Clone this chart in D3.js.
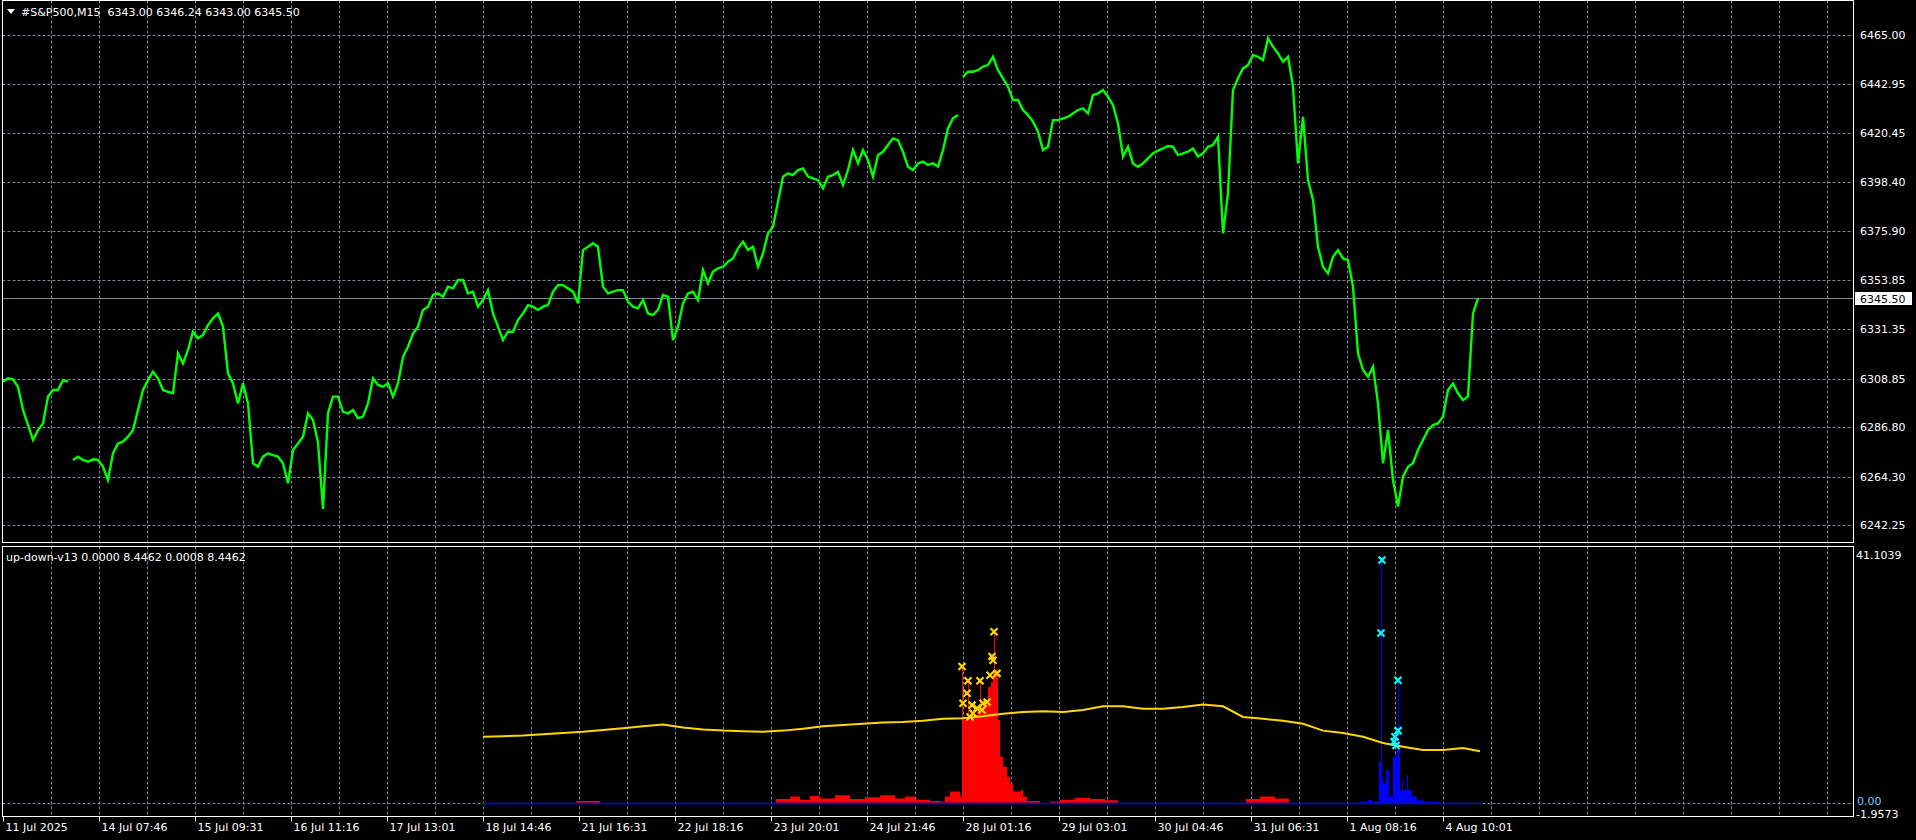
<!DOCTYPE html>
<html><head><meta charset="utf-8">
<script src="https://cdn.jsdelivr.net/npm/d3@7"></script>
<style>
html,body{margin:0;padding:0;background:#000;overflow:hidden}
svg{display:block}
text{font-family:"DejaVu Sans",sans-serif;font-size:11px;fill:#fff}
</style>
</head><body>
<svg id="c" width="1916" height="840"></svg>
<script>
// ---------- data ----------
const chartTitle = "#S&P500,M15  6343.00 6346.24 6343.00 6345.50";
const indTitle = "up-down-v13 0.0000 8.4462 0.0008 8.4462";
const priceTicks = [6465.00, 6442.95, 6420.45, 6398.40, 6375.90, 6353.85, 6331.35, 6308.85, 6286.80, 6264.30, 6242.25];
const priceMin = 6242.25, priceMax = 6465.00;
const lastPrice = 6345.50;
const indMax = 41.1039, indMin = -1.9573;
const indTicks = [0.00];
const timeLabels = ["11 Jul 2025","14 Jul 07:46","15 Jul 09:31","16 Jul 11:16","17 Jul 13:01","18 Jul 14:46","21 Jul 16:31","22 Jul 18:16","23 Jul 20:01","24 Jul 21:46","28 Jul 01:16","29 Jul 03:01","30 Jul 04:46","31 Jul 06:31","1 Aug 08:16","4 Aug 10:01"];
const barsPerLabel = 96;
const barsPerGrid = 48;
const sampleStep = 5; // M15 bars between price samples
const weekendBreaks = [14, 192]; // sample indexes where a new session opens after a gap

const closes = [
6307.6,6309.1,6308.6,6305.3,6294.7,6287.9,6281.1,6285.6,6288.6,6300.8,6303.8,6303.8,6308.3,6307.6,6272.0,6273.5,6272.0,6271.2,6272.3,6272.0,
6268.9,6262.9,6275.0,6279.5,6280.3,6282.6,6285.6,6294.7,6303.8,6308.3,6312.1,6309.1,6303.8,6303.0,6302.3,6320.5,6315.9,6322.0,6330.3,6327.3,
6328.8,6333.3,6336.4,6338.6,6332.6,6311.4,6306.8,6297.7,6306.8,6297.7,6270.5,6268.9,6273.5,6275.0,6274.2,6273.5,6270.5,6261.4,6276.5,6279.5,
6282.6,6293.2,6290.2,6280.0,6249.7,6293.2,6300.8,6300.8,6293.9,6293.2,6294.7,6290.9,6291.7,6297.7,6309.1,6306.1,
6305.3,6306.8,6300.8,6306.8,6318.9,6323.5,6329.5,6332.6,6340.2,6341.7,6347.0,6347.7,6346.2,6350.8,6350.0,6353.8,6353.8,6347.7,6348.5,6341.7,
6344.7,6349.2,6338.6,6332.6,6326.5,6330.3,6330.3,6335.6,6338.6,6342.4,6341.7,6340.2,6341.7,6342.4,6348.5,6351.5,6351.5,6350.0,6348.5,6343.2,
6367.4,6368.9,6370.5,6368.9,6350.8,6347.7,6348.5,6349.2,6349.2,6343.9,6341.7,6340.9,6344.7,6338.6,6337.9,6340.2,6347.0,6346.2,6326.5,6332.6,
6343.2,6347.7,6348.5,6344.7,6358.3,6352.3,6357.6,6359.1,6359.8,6362.1,6363.6,6368.2,6371.2,6367.4,
6368.9,6359.8,6365.9,6375.0,6378.0,6389.4,6400.8,6402.3,6401.5,6403.8,6404.5,6400.8,6400.0,6399.2,6395.5,6400.8,6401.5,6403.0,6397.0,6403.8,
6412.9,6406.8,6412.9,6408.3,6400.8,6410.6,6412.1,6415.2,6418.2,6417.4,6412.1,6405.3,6403.8,6406.8,6407.6,6406.1,6406.8,6405.3,6412.9,6422.7,
6427.3,6428.8,6446.2,6448.5,6448.5,6449.2,6450.8,6451.5,6455.3,6449.2,6445.5,6441.7,6435.6,6435.6,6431.1,6428.8,6425.8,6421.2,6412.9,6414.4,
6426.5,6426.5,6427.3,6428.0,6429.5,6431.1,6431.8,6429.5,6437.9,6438.6,6440.2,6437.1,6433.3,6425.0,
6409.9,6414.4,6406.8,6405.3,6406.8,6409.1,6411.4,6412.6,6413.6,6414.7,6414.4,6410.6,6411.4,6412.1,6413.6,6409.9,6411.4,6414.4,6415.2,6418.9,
6375.0,6393.2,6440.2,6445.5,6450.0,6451.5,6456.1,6455.3,6453.8,6463.6,6459.9,6456.8,6453.0,6455.3,6441.7,6406.8,6428.0,6399.2,6390.2,6368.9,
6359.8,6356.8,6364.4,6367.4,6363.6,6362.9,6350.8,6320.5,6312.9,6309.8,6314.4,6297.7,6270.5,6285.6,6262.9,6250.8,6264.4,6268.9,6270.5,6276.5,
6281.1,6285.6,6287.9,6288.6,6291.7,6303.8,6306.8,6302.3,6299.2,6300.8,6338.6,6345.5
];

// indicator: [bar, value] step knots
const redHist = [[573,0.3],[597,0],
[773,0.6],[787,1.0],[797,0.5],[807,1.1],[817,0.7],[832,1.2],[847,0.6],[862,0.9],[877,1.2],[892,0.7],[902,1.0],[912,0.5],[927,0.3],[937,0.2],[942,1.0],[947,1.8],[957,1.0],
[959,21.9],[960,13.3],[964,13.8],[965,19.4],[966,13.8],[967,13.3],[971,14.0],[974,15.0],[977,19.4],[978,15.5],[981,16.0],[985,18.6],[988,19.4],[990,21.3],[991,27.5],[992,21.3],[995,13.3],[997,7.4],[1000,5.8],[1004,4.2],[1007,3.1],[1010,1.8],[1018,2.1],[1020,1.0],[1024,0.3],[1037,0],
[1047,0.2],[1057,0.5],[1072,0.8],[1087,0.6],[1102,0.4],[1115,0],[1243,0.6],[1257,1.0],[1272,0.7],[1286,0]];
const blueHist = [[1357,0.2],[1365,0.5],[1369,0.2],[1376,6.6],[1378,39.0],[1379,3.9],[1380,3.1],[1383,5.3],[1386,1.0],[1390,7.4],[1394,8.6],[1395,19.7],[1396,8.6],[1397,2.0],[1399,3.9],[1400,2.0],[1404,4.5],[1405,2.0],[1409,1.0],[1414,0.4],[1420,0.2],[1437,0]];
const signalLine = [[480,10.6],[500,10.7],[520,10.8],[540,11.0],[560,11.2],[580,11.4],[600,11.7],[620,12.0],[640,12.3],[660,12.6],[680,12.1],[700,11.8],[720,11.6],[740,11.5],[760,11.4],[780,11.6],[800,11.9],[820,12.3],[840,12.5],[860,12.7],[880,12.9],[900,13.0],[920,13.2],[940,13.5],[960,13.6],[980,13.9],[1000,14.3],[1020,14.6],[1040,14.7],[1060,14.6],[1080,14.9],[1100,15.5],[1120,15.5],[1140,15.1],[1160,15.1],[1180,15.4],[1200,15.8],[1220,15.5],[1240,13.8],[1260,13.5],[1280,13.2],[1300,12.7],[1320,11.6],[1340,11.2],[1360,10.6],[1380,9.6],[1400,9.0],[1420,8.5],[1440,8.5],[1460,8.8],[1477,8.3]];
const zeroLineBars = [480, 1478];
const upMarks = [[959,21.9],[965,19.6],[977,19.6],[964,17.6],[960,16.0],[969,15.7],[980,16.0],[984,16.2],[967,13.8],[970,14.4],[974,15.2],[979,14.9],[989,23.5],[990,22.9],[987,20.5],[994,20.8],[991,27.5]];
const downMarks = [[1379,39.0],[1378,27.3],[1395,19.7],[1395,11.6],[1392,10.6],[1391,9.8],[1393,9.2]];

// ---------- layout ----------
const L = 2.5, R = 1853.5;
const mainTop = 0.5, mainBot = 542.5;
const indTop = 546.5, indBot = 816.5;
const gridColor = "#778899";

const svg = d3.select("#c");
svg.append("rect").attr("width",1916).attr("height",840).attr("fill","#000");

const x = d3.scaleLinear().domain([0,1]).range([3,4]);
const y = d3.scaleLinear().domain([priceMin, priceMax]).range([525.4, 35.4]);
const yi = d3.scaleLinear().domain([indMin, indMax]).range([815, 547]);

const nBarsVisible = Math.floor(R - 3);
const gridBars = d3.range(barsPerGrid, nBarsVisible, barsPerGrid);

// vertical grid (both panes)
const g = svg.append("g").attr("stroke", gridColor).attr("stroke-dasharray","3,2").attr("stroke-width",1);
gridBars.forEach(b => {
  const xx = Math.round(x(b)) + 0.5;
  g.append("line").attr("x1",xx).attr("x2",xx).attr("y1",mainTop).attr("y2",mainBot);
  g.append("line").attr("x1",xx).attr("x2",xx).attr("y1",indTop).attr("y2",indBot);
});
// horizontal grid main
priceTicks.forEach(p => {
  const yy = Math.round(y(p)) + 0.5;
  g.append("line").attr("x1",L).attr("x2",R).attr("y1",yy).attr("y2",yy);
});
// indicator zero grid
indTicks.forEach(v => {
  const yy = Math.round(yi(v)) + 0.5;
  g.append("line").attr("x1",L).attr("x2",R).attr("y1",yy).attr("y2",yy);
});

// last price line
const ly = Math.round(y(lastPrice)) + 0.5;
svg.append("line").attr("x1",L).attr("x2",R).attr("y1",ly).attr("y2",ly).attr("stroke",gridColor).attr("stroke-width",1);

// price line, broken at session gaps
const pts = closes.map((d,i)=>({i, v:d}));
const line = d3.line().x(d=>x(d.i*sampleStep)).y(d=>y(d.v));
const segs = [];
let start = 0;
weekendBreaks.concat([closes.length]).forEach(bk => { segs.push(pts.slice(start, bk)); start = bk; });
svg.append("g").selectAll("path").data(segs).enter().append("path")
  .attr("d", line).attr("fill","none").attr("stroke","#00ff00").attr("stroke-width",2.4).attr("stroke-linejoin","miter");

// indicator histograms
const histArea = d3.area().curve(d3.curveStepAfter).x(d=>x(d[0])).y0(yi(0)).y1(d=>yi(d[1]));
svg.append("path").datum(redHist).attr("d",histArea).attr("fill","#ff0000");
svg.append("path").datum(blueHist).attr("d",histArea).attr("fill","#0000ff");
// zero line
const zy = Math.round(yi(0)) + 0.5;
svg.append("line").attr("x1",x(zeroLineBars[0])).attr("x2",x(zeroLineBars[1])).attr("y1",zy).attr("y2",zy).attr("stroke","#0000ff").attr("stroke-width",1.5);
// signal line
const sl = d3.line().x(d=>x(d[0])).y(d=>yi(d[1]));
svg.append("path").datum(signalLine).attr("d",sl).attr("fill","none").attr("stroke","#ffd700").attr("stroke-width",2);

// markers
function cross(sel, data, color){
  const s = 3.5;
  sel.selectAll(null).data(data).enter().append("path")
    .attr("d", d => { const cx = x(d[0]), cy = yi(d[1]);
      return `M${cx-s},${cy-s}L${cx+s},${cy+s}M${cx-s},${cy+s}L${cx+s},${cy-s}`; })
    .attr("stroke", color).attr("stroke-width", 2.2).attr("fill","none");
}
cross(svg.append("g"), upMarks, "#ffd700");
cross(svg.append("g"), downMarks, "#00ffff");

// borders
const b = svg.append("g").attr("fill","none").attr("stroke","#fff").attr("stroke-width",1);
b.append("rect").attr("x",L).attr("y",mainTop).attr("width",R-L).attr("height",mainBot-mainTop);
b.append("rect").attr("x",L).attr("y",indTop).attr("width",R-L).attr("height",indBot-indTop);

// price axis labels
svg.append("g").selectAll("text").data(priceTicks).enter().append("text")
  .attr("x",1860).attr("y",p=>y(p)+4).text(p=>p.toFixed(2));
// last price box
svg.append("rect").attr("x",1855).attr("y",ly-6.5).attr("width",57).attr("height",13).attr("fill","#fff");
svg.append("text").attr("x",1860).attr("y",ly+4).style("fill","#000").text(lastPrice.toFixed(2));

// indicator labels
svg.append("text").attr("x",1856).attr("y",559).text(indMax.toFixed(4));
svg.append("text").attr("x",1857).attr("y",yi(0)+2).style("fill","#6cf").text("0.00");
svg.append("text").attr("x",1856).attr("y",818).text(indMin.toFixed(4));

// time axis
const ta = svg.append("g");
timeLabels.forEach((t,i) => {
  const xx = Math.round(x(i*barsPerLabel)) + 0.5;
  ta.append("line").attr("x1",xx).attr("x2",xx).attr("y1",indBot).attr("y2",indBot+5).attr("stroke","#fff");
  ta.append("text").attr("x",xx+2).attr("y",831).text(t);
});

// titles
svg.append("path").attr("d","M7,9L15,9L11,14Z").attr("fill","#fff");
svg.append("text").attr("x",21).attr("y",16).text(chartTitle).attr("xml:space","preserve").style("white-space","pre");
svg.append("text").attr("x",6).attr("y",561).text(indTitle);
</script>
</body></html>
